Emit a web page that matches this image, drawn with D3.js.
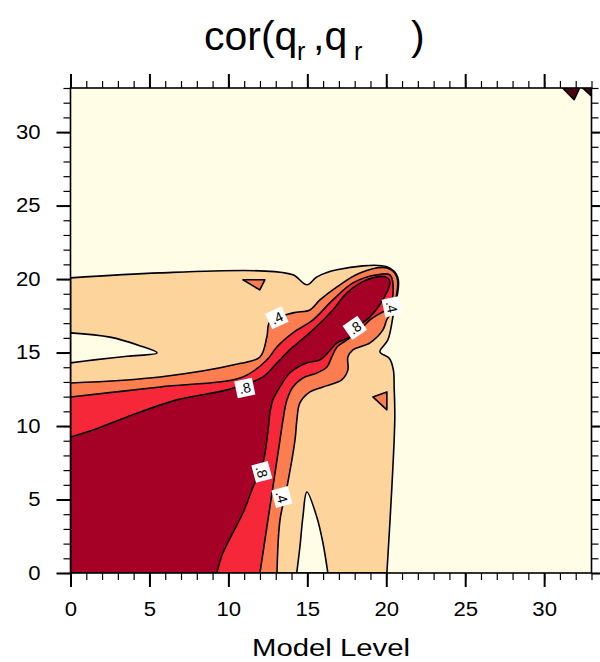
<!DOCTYPE html>
<html>
<head>
<meta charset="utf-8">
<script src="https://cdn.jsdelivr.net/npm/d3@7"></script>
<style>
  html, body { margin: 0; padding: 0; background: #ffffff; }
  svg { display: block; }
  text { font-family: "Liberation Sans", Arial, Helvetica, sans-serif; }
</style>
</head>
<body>
<svg id="chart" width="600" height="662"></svg>
<script>
// ---------------- data ----------------
const xDomain = [0, 33];
const yDomain = [0, 33];
const majorTicks = [0, 5, 10, 15, 20, 25, 30];
const minorTicks = d3.range(0, 34, 1);
const contourLevels = [0.2, 0.4, 0.6, 0.8];
const levelColors = ["#FFFDE5", "#FDD49C", "#FC7E50", "#F52739", "#A50026"];

// region where cor >= 0.2 (last point is the plot corner)
const region02 = [[0,20.08],[5.67,20.42],[11.99,20.56],[14.09,20.29],[14.98,19.61],[15.61,20.15],
  [16.88,20.63],[20.04,20.83],[20.74,20.08],[20.42,17.43],[20.1,15.86],[19.60,15.04],[20.2,14.6],
  [20.45,13.82],[20.5,12.66],[20.54,10.42],[20.04,0],[0,0]];
// holes where cor < 0.2 inside region02 (ends lie on the plot border)
const hole02a = [[0,16.34],[2.5,16.05],[4.3,15.5],[5.48,14.98],[3.6,14.75],[1.5,14.5],[0,14.30]];
const hole02b = [[14.33,0],[14.53,1.77],[14.72,3.81],[14.97,5.51],[15.6,3.81],[15.99,2.04],[16.30,0]];
// region where cor >= 0.4
const region04 = [[0,12.93],[5.67,13.34],[10.5,14.2],[12.0,14.70],[12.44,16.07],[12.63,17.09],[14.09,17.70],
  [15.17,17.90],[15.80,18.58],[16.88,19.47],[18.33,20.42],[20.04,20.76],[20.67,20.15],[20.42,17.90],
  [20.03,17.22],[19.79,16.54],[18.97,15.66],[17.89,15.18],[17.57,14.70],[17.57,13.82],[17.18,13.14],
  [15.99,12.66],[15.17,12.32],[14.53,11.57],[14.34,10.42],[14.22,9.05],[13.71,5.85],[13.27,3.61],
  [13.08,0],[0,0]];
const island04a = [[10.92,19.95],[12.31,19.95],[11.99,19.26]];
const island04b = [[19.15,11.98],[20.04,12.32],[20.04,11.1]];
// region where cor >= 0.6
const region06 = [[0,11.98],[5.67,12.66],[10.92,13.34],[12.44,14.50],[13.07,15.38],[14.09,16.34],
  [15.36,17.22],[16.62,18.58],[17.89,19.74],[19.41,20.29],[20.23,20.29],[20.42,19.74],[20.23,18.11],
  [19.5,17.6],[18.97,17.22],[18.33,16.54],[17.51,15.86],[16.88,15.38],[16.55,14.70],[16.24,14.02],
  [15.61,13.61],[14.72,13.27],[14.09,12.66],[13.71,11.78],[13.46,10.42],[13.27,9.05],[12.82,5.85],
  [12.19,1.36],[12.0,0],[0,0]];
// region where cor >= 0.8
const region08 = [[0,9.26],[1.42,9.73],[3.58,10.62],[6.74,11.78],[9.91,12.46],[12.19,13.34],
  [13.08,14.30],[14.09,15.38],[15.36,16.54],[16.62,17.90],[17.51,19.06],[18.78,19.95],[19.92,20.15],
  [20.23,19.81],[19.79,18.58],[18.97,17.43],[18.2,16.75],[17.69,16.07],[16.88,15.66],[16.30,14.98],
  [15.80,14.50],[14.98,14.30],[13.89,13.61],[13.27,12.66],[12.82,11.78],[12.63,10.89],[12.5,9.6],
  [12.19,7.49],[11.56,5.85],[10.92,4.08],[9.65,1.36],[9.27,0],[0,0]];
const island08a = [[31.17,33],[32.25,33],[31.9,32.2]];
const island08b = [[32.44,33],[33,33],[32.95,32.5]];

// contour line labels
const labelText  = [".4", ".8", ".8", ".4", ".8", ".4"];
const labelX     = [13.07, 11.04, 18.01, 20.35, 12.12, 13.39];
const labelY     = [17.36, 12.59, 16.68, 18.11, 6.88, 5.17];
const labelAngle = [-25, -12, -35, 78, 75, 75];

// ---------------- drawing ----------------
const svg = d3.select("#chart");
const margin = { left: 70.5, right: 8.5, top: 88, bottom: 89 };
const W = 600, H = 662;
const x = d3.scaleLinear().domain(xDomain).range([margin.left, W - margin.right]);
const y = d3.scaleLinear().domain(yDomain).range([H - margin.bottom, margin.top]);

svg.append("defs").append("clipPath").attr("id", "plotclip")
  .append("rect")
  .attr("x", x(xDomain[0])).attr("y", y(yDomain[1]))
  .attr("width", x(xDomain[1]) - x(xDomain[0]))
  .attr("height", y(yDomain[0]) - y(yDomain[1]));

const plot = svg.append("g").attr("clip-path", "url(#plotclip)");
plot.append("rect")
  .attr("x", x(xDomain[0])).attr("y", y(yDomain[1]))
  .attr("width", x(xDomain[1]) - x(xDomain[0]))
  .attr("height", y(yDomain[0]) - y(yDomain[1]))
  .attr("fill", levelColors[0]);

const smooth = d3.line().x(d => x(d[0])).y(d => y(d[1])).curve(d3.curveCatmullRom.alpha(0.5));
const poly = d3.line().x(d => x(d[0])).y(d => y(d[1])).curve(d3.curveLinearClosed);

// regions: smooth contour through interior points, straight along the plot border to the corner
function regionPath(pts) {
  const c = pts[pts.length - 1];
  return smooth(pts.slice(0, -1)) + `L${x(c[0])},${y(c[1])}Z`;
}
function holePath(pts) { return smooth(pts) + "Z"; }

const shapes = [
  { d: regionPath(region02), c: levelColors[1] },
  { d: holePath(hole02a),    c: levelColors[0] },
  { d: holePath(hole02b),    c: levelColors[0] },
  { d: regionPath(region04), c: levelColors[2] },
  { d: poly(island04a),      c: levelColors[2] },
  { d: poly(island04b),      c: levelColors[2] },
  { d: regionPath(region06), c: levelColors[3] },
  { d: regionPath(region08), c: levelColors[4] },
  { d: poly(island08a),      c: "#4a0510" },
  { d: poly(island08b),      c: "#4a0510" }
];
plot.selectAll("path.region").data(shapes).join("path")
  .attr("class", "region")
  .attr("d", d => d.d)
  .attr("fill", d => d.c)
  .attr("stroke", "#000")
  .attr("stroke-width", 1.6)
  .attr("stroke-linejoin", "round");

// labels
const labels = plot.selectAll("g.lab").data(labelText.map((t, i) => ({ t, x: labelX[i], y: labelY[i], a: labelAngle[i] })))
  .join("g").attr("class", "lab")
  .attr("transform", d => `translate(${x(d.x)},${y(d.y)}) rotate(${d.a})`);
labels.append("rect").attr("x", -9).attr("y", -8.5).attr("width", 18).attr("height", 17).attr("fill", "#fff");
labels.append("text").attr("text-anchor", "middle").attr("dy", "0.36em")
  .attr("font-size", 14).attr("fill", "#000").text(d => d.t);

// frame
svg.append("rect")
  .attr("x", x(xDomain[0])).attr("y", y(yDomain[1]))
  .attr("width", x(xDomain[1]) - x(xDomain[0]))
  .attr("height", y(yDomain[0]) - y(yDomain[1]))
  .attr("fill", "none").attr("stroke", "#000").attr("stroke-width", 1.6);

function styleAxis(g, w) {
  g.select(".domain").remove();
  g.selectAll(".tick line").attr("stroke", "#000").attr("stroke-width", w);
  g.selectAll(".tick text").attr("font-size", 19.5).attr("fill", "#000")
    .attr("font-family", "'Liberation Sans', Arial, Helvetica, sans-serif")
    .attr("textLength", d => String(d).length * 12.3)
    .attr("lengthAdjust", "spacingAndGlyphs");
}
const bottomY = y(yDomain[0]), topY = y(yDomain[1]);
const leftX = x(xDomain[0]), rightX = x(xDomain[1]);

// minor ticks
svg.append("g").attr("transform", `translate(0,${bottomY})`)
  .call(d3.axisBottom(x).tickValues(minorTicks).tickSize(7).tickFormat("")).call(g => styleAxis(g, 1.2));
svg.append("g").attr("transform", `translate(0,${topY})`)
  .call(d3.axisTop(x).tickValues(minorTicks).tickSize(7).tickFormat("")).call(g => styleAxis(g, 1.2));
svg.append("g").attr("transform", `translate(${leftX},0)`)
  .call(d3.axisLeft(y).tickValues(minorTicks).tickSize(7).tickFormat("")).call(g => styleAxis(g, 1.2));
svg.append("g").attr("transform", `translate(${rightX},0)`)
  .call(d3.axisRight(y).tickValues(minorTicks).tickSize(7).tickFormat("")).call(g => styleAxis(g, 1.2));
// major ticks
svg.append("g").attr("transform", `translate(0,${bottomY})`)
  .call(d3.axisBottom(x).tickValues(majorTicks).tickSize(14).tickPadding(15).tickFormat(d3.format("d")))
  .call(g => styleAxis(g, 2));
svg.append("g").attr("transform", `translate(0,${topY})`)
  .call(d3.axisTop(x).tickValues(majorTicks).tickSize(14).tickFormat(""))
  .call(g => styleAxis(g, 2));
svg.append("g").attr("transform", `translate(${leftX},0)`)
  .call(d3.axisLeft(y).tickValues(majorTicks).tickSize(14).tickPadding(16).tickFormat(d3.format("d")))
  .call(g => styleAxis(g, 2));
svg.append("g").attr("transform", `translate(${rightX},0)`)
  .call(d3.axisRight(y).tickValues(majorTicks).tickSize(14).tickFormat(""))
  .call(g => styleAxis(g, 2));

// axis title
svg.append("text").attr("x", (leftX + rightX) / 2).attr("y", 656)
  .attr("text-anchor", "middle").attr("font-size", 23)
  .attr("textLength", 158).attr("lengthAdjust", "spacingAndGlyphs")
  .attr("fill", "#000").text("Model Level");

// main title: cor(q_r ,q_r )
const tg = svg.append("g").attr("fill", "#000");
tg.append("text").attr("x", 204).attr("y", 50).attr("font-size", 41).text("cor(q");
tg.append("text").attr("x", 297).attr("y", 60).attr("font-size", 25).text("r");
tg.append("text").attr("x", 313).attr("y", 50).attr("font-size", 41).text(",q");
tg.append("text").attr("x", 354).attr("y", 60).attr("font-size", 25).text("r");
tg.append("text").attr("x", 411).attr("y", 50).attr("font-size", 41).text(")");
</script>
</body>
</html>
